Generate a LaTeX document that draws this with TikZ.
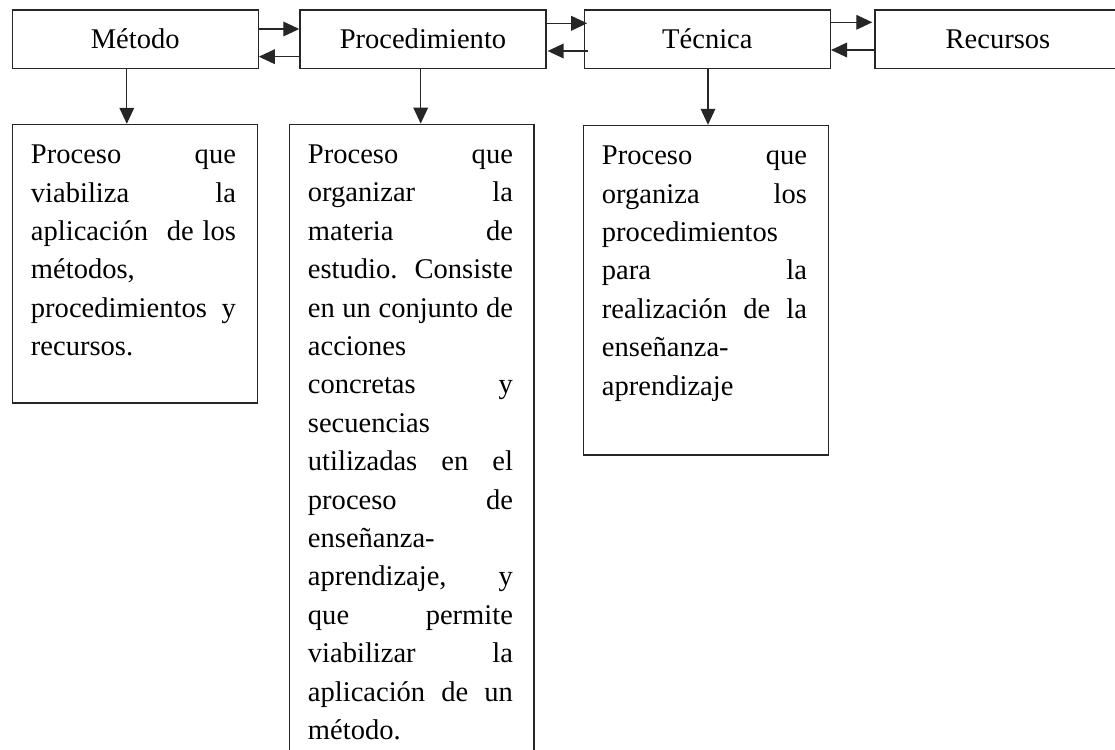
\documentclass[tikz,border=0pt]{standalone}
\usepackage{fontspec}
\setmainfont{Liberation Serif}
\usetikzlibrary{arrows.meta,calc}
\newcommand{\myfs}{\fontsize{21.4pt}{28.8pt}\selectfont}
\newcommand{\jl}[1]{\leavevmode\hbox to 153.75pt{#1}}
\tikzset{
  topbox/.style={draw=black!85, line width=1pt, minimum width=184.5pt, minimum height=43.8pt,
    inner sep=0pt, anchor=north west, font=\myfs},
  lowbox/.style={draw=black!85, line width=1pt, inner sep=0pt, anchor=north west},
  txt/.style={inner sep=0pt, anchor=north west, text width=153.75pt, align=left, font=\myfs},
  arr/.style={draw=black!85, line width=1pt, -{Triangle[length=12pt,width=11pt]}}
}
\begin{document}
\begin{tikzpicture}[x=0.75pt,y=-0.75pt]
\useasboundingbox (0,0) rectangle (1115,750);
% top row
\node[topbox] (metodo) at (11.5,9.3) {Método};
\node[topbox] (proc) at (299.3,9.3) {Procedimiento};
\node[topbox] (tec) at (583.7,9.3) {Técnica};
\node[topbox] (rec) at (874.3,9.3) {Recursos};
% lower boxes
\node[lowbox, minimum width=183.75pt, minimum height=208.9pt] (lmet) at (11.7,123.8) {};
\node[lowbox, minimum width=183.2pt, minimum height=484.8pt] (lproc) at (289,123.6) {};
\node[lowbox, minimum width=184pt, minimum height=247.1pt] (ltec) at (582.7,124.8) {};
% texts
\node[txt] (tmet) at ($(lmet.north west)+(19,21)$) {%
\jl{Proceso\hfill que}\\
\jl{viabiliza\hfill la}\\
\jl{aplicación\ \hfill de\hfill los}\\
métodos,\\
\jl{procedimientos\hfill y}\\
recursos.};
\node[txt] (tproc) at ($(lproc.north west)+(18.7,21)$) {%
\jl{Proceso\hfill que}\\
\jl{organizar\hfill la}\\
\jl{materia\hfill de}\\
\jl{estudio.\ \hfill Consiste}\\
\jl{en\hfill un\hfill conjunto\hfill de}\\
acciones\\
\jl{concretas\hfill y}\\
secuencias\\
\jl{utilizadas\hfill en\hfill el}\\
\jl{proceso\hfill de}\\
enseñanza-\\
\jl{aprendizaje,\hfill y}\\
\jl{que\hfill permite}\\
\jl{viabilizar\hfill la}\\
\jl{aplicación\hfill de\hfill un}\\
método.};
\node[txt] (ttec) at ($(ltec.north west)+(19,21)$) {%
\jl{Proceso\hfill que}\\
\jl{organiza\hfill los}\\
procedimientos\\
\jl{para\hfill la}\\
\jl{realización\hfill de\hfill la}\\
enseñanza-\\
aprendizaje};
% horizontal arrows
\draw[arr] (metodo.east |- 0,29) -- (proc.west |- 0,29);
\draw[arr] (proc.west |- 0,56.7) -- (metodo.east |- 0,56.7);
\draw[arr] (proc.east |- 0,23.3) -- ($(tec.west |- 0,23.3)+(3.5,0)$);
\draw[arr] ($(tec.west |- 0,51)+(4.3,0)$) -- ($(proc.east |- 0,51)+(1,0)$);
\draw[arr] (tec.east |- 0,22.3) -- ($(rec.west |- 0,22.3)+(-2,0)$);
\draw[arr] (rec.west |- 0,50) -- (tec.east |- 0,50);
% vertical arrows
\draw[arr] (126.8,0 |- metodo.south) -- (126.8,0 |- lmet.north);
\draw[arr] (420.7,0 |- proc.south) -- (420.7,0 |- lproc.north);
\draw[arr] (708,0 |- tec.south) -- (708,0 |- ltec.north);
\end{tikzpicture}
\end{document}
